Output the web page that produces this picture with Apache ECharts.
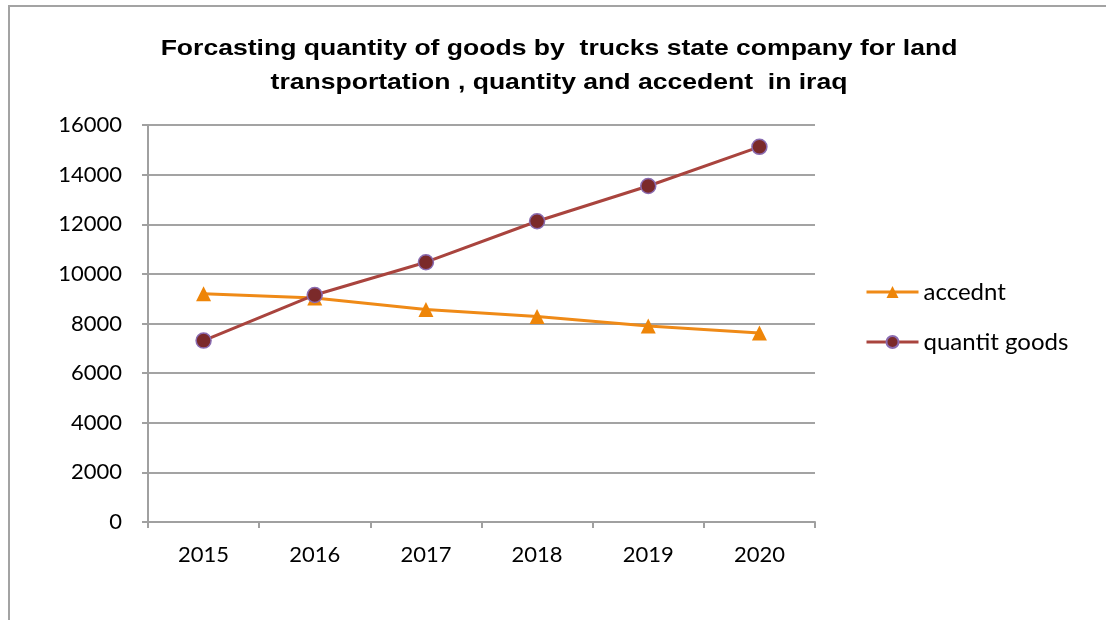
<!DOCTYPE html>
<html>
<head>
<meta charset="utf-8">
<script src="https://cdn.jsdelivr.net/npm/echarts@6/dist/echarts.min.js"></script>
<style>html,body{margin:0;padding:0;background:#fff}#c{width:1106px;height:620px}</style>
</head>
<body>
<div id="c"></div>
<script>
const years = ['2015', '2016', '2017', '2018', '2019', '2020'];
const accident = [9200, 9030, 8560, 8280, 7900, 7620];
const quantityGoods = [7310, 9150, 10470, 12120, 13540, 15120];
const seriesNames = ['accednt', 'quantit goods'];
const titleLines = ['Forcasting quantity of goods by  trucks state company for land', 'transportation , quantity and accedent  in iraq'];

const chart = echarts.init(document.getElementById('c'));
const labelFont = 'Lato, "Open Sans", sans-serif';
const titleFont = 'bold 22px "Liberation Sans", Arial, sans-serif';
chart.setOption({
  animation: false,
  backgroundColor: '#ffffff',
  graphic: [
    {
      type: 'rect', silent: true,
      shape: { x: 9, y: 6, width: 1200, height: 700 },
      style: { fill: 'none', stroke: '#a3a3a3', lineWidth: 2 }
    },
    {
      type: 'text', silent: true, x: 559, y: 49, scaleX: 1.207,
      style: { text: titleLines[0], font: titleFont, fill: '#000', align: 'center', verticalAlign: 'middle' }
    },
    {
      type: 'text', silent: true, x: 559, y: 83, scaleX: 1.207,
      style: { text: titleLines[1], font: titleFont, fill: '#000', align: 'center', verticalAlign: 'middle' }
    }
  ],
  legend: {
    orient: 'vertical', left: 860, top: 275, itemWidth: 52, itemHeight: 15, itemGap: 26,
    textStyle: { fontFamily: labelFont, fontSize: 24, color: '#000' },
    lineStyle: { width: 3 },
    data: seriesNames
  },
  grid: { left: 148, top: 125, right: 291, bottom: 98, containLabel: false },
  xAxis: {
    type: 'category', data: years, boundaryGap: true,
    axisLine: { lineStyle: { color: '#a0a0a0', width: 2 } },
    axisTick: { show: true, inside: false, length: 6, alignWithLabel: false, lineStyle: { color: '#a0a0a0', width: 2 } },
    axisLabel: { fontFamily: labelFont, fontSize: 22, color: '#000', margin: 22 },
    splitLine: { show: false }
  },
  yAxis: {
    type: 'value', min: 0, max: 16000, interval: 2000,
    axisLine: { show: true, lineStyle: { color: '#a0a0a0', width: 2 } },
    axisTick: { show: true, inside: false, length: 6, lineStyle: { color: '#a0a0a0', width: 2 } },
    axisLabel: { fontFamily: labelFont, fontSize: 22, color: '#000', margin: 26, formatter: v => String(v) },
    splitLine: { show: true, lineStyle: { color: '#a3a3a3', width: 2 } }
  },
  series: [
    {
      name: seriesNames[0], type: 'line', data: accident,
      symbol: 'triangle', symbolSize: 15,
      lineStyle: { color: '#ef8a17', width: 3 },
      itemStyle: { color: '#ee8508', borderWidth: 0 }
    },
    {
      name: seriesNames[1], type: 'line', data: quantityGoods,
      symbol: 'circle', symbolSize: 15,
      lineStyle: { color: '#a9443e', width: 3 },
      itemStyle: { color: '#7b2a2a', borderColor: '#8a6bb0', borderWidth: 1.5 }
    }
  ]
});
</script>
</body>
</html>
